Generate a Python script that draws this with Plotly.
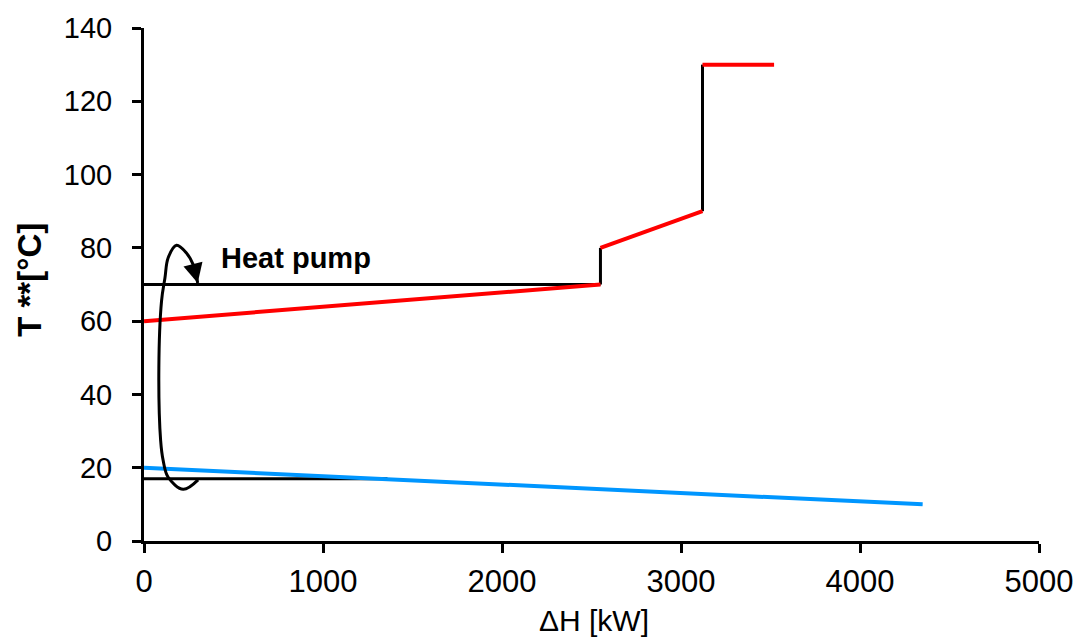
import plotly.graph_objects as go

# Hot composite (red segments) and vertical steps (black)
hot_seg1_x = [0, 2550]
hot_seg1_y = [60, 70]
hot_seg2_x = [2550, 3120]
hot_seg2_y = [80, 90]
hot_seg3_x = [3120, 3520]
hot_seg3_y = [130, 130]
step1_x = [2550, 2550]
step1_y = [70, 80]
step2_x = [3120, 3120]
step2_y = [90, 130]

# Cold composite (blue)
cold_x = [0, 4350]
cold_y = [20, 10]

# Heat pump levels
hp_upper_x = [0, 2550]
hp_upper_y = [70, 70]
hp_lower_x = [0, 1360]
hp_lower_y = [17, 17]

# Heat pump loop curve; the arrow head sits on its last point
loop_x = [302, 219, 135, 107, 93, 83, 98, 117, 135, 182, 237, 274, 300]
loop_y = [16.7, 14.1, 17.4, 22.0, 27.4, 47.3, 65.5, 71.8, 77.3, 80.7, 78.6, 75.5, 70.4]

x_ticks = [0, 1000, 2000, 3000, 4000, 5000]
y_ticks = [0, 20, 40, 60, 80, 100, 120, 140]

BLACK = "#000000"
RED = "#ff0000"
BLUE = "#0096ff"
SANS = "Liberation Sans, Arial, sans-serif"

fig = go.Figure()

def seg(x, y, color, width):
    fig.add_trace(go.Scatter(x=x, y=y, mode="lines",
                             line=dict(color=color, width=width),
                             hoverinfo="skip", showlegend=False))

seg(hp_upper_x, hp_upper_y, BLACK, 3)
seg(hp_lower_x, hp_lower_y, BLACK, 3)
seg(step1_x, step1_y, BLACK, 3)
seg(step2_x, step2_y, BLACK, 3)
seg(hot_seg1_x, hot_seg1_y, RED, 4)
seg(hot_seg2_x, hot_seg2_y, RED, 4)
seg(hot_seg3_x, hot_seg3_y, RED, 4)
seg(cold_x, cold_y, BLUE, 4)

fig.add_trace(go.Scatter(
    x=loop_x, y=loop_y, mode="lines",
    line=dict(color=BLACK, width=3, shape="spline", smoothing=1.0),
    hoverinfo="skip", showlegend=False))

# arrow head at the end of the loop
fig.add_annotation(x=loop_x[-1], y=loop_y[-1], ax=loop_x[-2], ay=loop_y[-2],
                   xref="x", yref="y", axref="x", ayref="y", text="",
                   showarrow=True, arrowhead=2, arrowsize=1.3, arrowwidth=3,
                   arrowcolor=BLACK, standoff=0)

fig.add_annotation(x=420, y=77.2, xref="x", yref="y", text="<b>Heat pump</b>",
                   showarrow=False, xanchor="left", yanchor="middle",
                   font=dict(family=SANS, size=29, color=BLACK))

fig.add_annotation(x=0.503, y=-0.118, xref="paper", yref="paper", text="ΔH [kW]",
                   showarrow=False, xanchor="center", yanchor="top",
                   font=dict(family=SANS, size=30, color=BLACK))

fig.add_annotation(x=-0.128, y=0.51, xref="paper", yref="paper", text="<b>T **[°C]</b>",
                   showarrow=False, textangle=-90, xanchor="center", yanchor="middle",
                   font=dict(family=SANS, size=33, color=BLACK))

fig.update_xaxes(range=[0, 5000], tickvals=x_ticks, ticktext=[str(v) for v in x_ticks],
                 showgrid=False, zeroline=False, showline=True, linecolor=BLACK, linewidth=3,
                 ticks="outside", ticklen=9, tickwidth=3, tickcolor=BLACK,
                 tickfont=dict(family=SANS, size=31, color=BLACK),
                 ticklabelstandoff=2)
fig.update_yaxes(range=[0, 140], tickvals=y_ticks, ticktext=[str(v) for v in y_ticks],
                 showgrid=False, zeroline=False, showline=True, linecolor=BLACK, linewidth=3,
                 ticks="outside", ticklen=9, tickwidth=3, tickcolor=BLACK,
                 tickfont=dict(family=SANS, size=29, color=BLACK),
                 ticklabelstandoff=14)

fig.update_layout(width=1085, height=641, plot_bgcolor="white", paper_bgcolor="white",
                  margin=dict(l=144, r=42, t=25, b=100), showlegend=False)

fig.write_html("out.html")
